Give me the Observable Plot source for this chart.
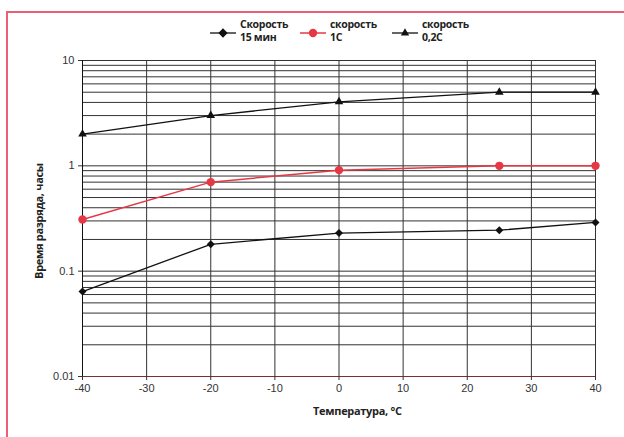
<!DOCTYPE html>
<html><head><meta charset="utf-8">
<script src="https://cdn.jsdelivr.net/npm/d3@7"></script>
<script src="https://cdn.jsdelivr.net/npm/@observablehq/plot@0.6"></script>
<style>
body{margin:0;background:#fff;}
#wrap{position:relative;width:624px;height:437px;overflow:hidden;background:#fff;font-family:"Liberation Sans",Arial,sans-serif;}
#frame{position:absolute;left:6px;top:11px;width:700px;height:500px;border-left:2px solid #ee5d76;border-top:2px solid #ee5d76;}
#chart{position:absolute;left:0;top:0;}
.lbl{position:absolute;font-family:"Open Sans",sans-serif;font-weight:bold;font-size:11px;color:#222;white-space:nowrap;letter-spacing:-0.3px;}
#legend{position:absolute;left:0;top:0;}
.li{position:absolute;display:flex;align-items:flex-start;}
.li span{font-family:"Open Sans",sans-serif;font-weight:bold;font-size:10.5px;line-height:13px;color:#222;letter-spacing:-0.3px;margin-left:4px;margin-top:-1px;}
</style></head>
<body><div id="wrap"><div id="frame"></div><div id="chart"></div><div id="legend"></div>
<div class="lbl" id="xl" style="left:313px;top:403px;">Температура, °C</div>
<div class="lbl" id="yl" style="left:38px;top:221px;transform:translate(-50%,-50%) rotate(-90deg);">Время разряда, часы</div>
</div>
<script>
const temps = [-40, -20, 0, 25, 40];
const rate15min = [0.064, 0.18, 0.23, 0.245, 0.29];
const rate1C = [0.31, 0.70, 0.91, 1.0, 1.0];
const rate02C = [2.0, 3.0, 4.05, 5.0, 5.0];
const seriesNames = ["Скорость\n15 мин", "скорость\n1С", "скорость\n0,2С"];
const xTicks = [-40, -30, -20, -10, 0, 10, 20, 30, 40];
const yTicks = [0.01, 0.1, 1, 10];
const yTickLabels = ["0.01", "0.1", "1", "10"];

const gridY = [];
for (const d of [0.01, 0.1, 1]) for (let k = 1; k <= 9; k++) gridY.push(+(d * k).toPrecision(3));
gridY.push(10);

const mk = (vals) => temps.map((t, i) => ({t, v: vals[i]}));
const s15 = mk(rate15min), s1 = mk(rate1C), s02 = mk(rate02C);

const red = "#e63844";
const yFmt = (d) => yTickLabels[yTicks.indexOf(d)];
const xFmt = (d) => String(d);
const chart = Plot.plot({
  width: 624, height: 437,
  marginTop: 60, marginBottom: 61, marginLeft: 82, marginRight: 29,
  style: {fontFamily: "'Liberation Sans', Arial, sans-serif", fontSize: "11px", color: "#333", background: "transparent"},
  x: {domain: [-40, 40], label: null},
  y: {type: "log", domain: [0.01, 10], label: null},
  marks: [
    Plot.ruleY(gridY, {stroke: "#333", strokeWidth: 1}),
    Plot.ruleX(xTicks, {stroke: "#333", strokeWidth: 1}),
    Plot.ruleY([0.01], {stroke: "#7a3030", strokeWidth: 1}),
    Plot.ruleX([-40], {stroke: "#111", strokeWidth: 1}),
    Plot.lineY(s02, {x: "t", y: "v", stroke: "#111", strokeWidth: 1.3}),
    Plot.dot(s02, {x: "t", y: "v", symbol: "triangle", fill: "#111", r: 3.2}),
    Plot.lineY(s1, {x: "t", y: "v", stroke: red, strokeWidth: 1.5}),
    Plot.dot(s1, {x: "t", y: "v", symbol: "circle", fill: red, r: 4.2}),
    Plot.lineY(s15, {x: "t", y: "v", stroke: "#111", strokeWidth: 1.3}),
    Plot.dot(s15, {x: "t", y: "v", symbol: "diamond2", fill: "#111", stroke: "none", r: 3.6}),
    Plot.axisX({ticks: xTicks, tickFormat: xFmt, tickSize: 4, tickPadding: 4}),
    Plot.axisY({ticks: yTicks, tickFormat: yFmt, tickSize: 4, tickPadding: 4})
  ]
});
document.getElementById("chart").appendChild(chart);

// legend
const legendItems = [
  {name: seriesNames[0], color: "#111", sym: "diamond", left: 210},
  {name: seriesNames[1], color: red, sym: "circle", left: 300},
  {name: seriesNames[2], color: "#111", sym: "triangle", left: 392}
];
const lg = document.getElementById("legend");
for (const it of legendItems) {
  const div = document.createElement("div");
  div.className = "li";
  div.style.left = it.left + "px";
  div.style.top = "19px";
  const svg = d3.create("svg").attr("width", 26).attr("height", 28);
  svg.append("line").attr("x1", 0).attr("x2", 26).attr("y1", 14).attr("y2", 14).attr("stroke", it.color).attr("stroke-width", it.sym === "circle" ? 1.5 : 1.3);
  const sym = it.sym === "diamond" ? d3.symbolDiamond2 : it.sym === "circle" ? d3.symbolCircle : d3.symbolTriangle;
  const size = it.sym === "diamond" ? 55 : it.sym === "circle" ? 55 : 30;
  svg.append("path").attr("d", d3.symbol(sym, size)()).attr("transform", "translate(13,14)").attr("fill", it.color);
  div.appendChild(svg.node());
  const sp = document.createElement("span");
  sp.innerHTML = it.name.replace("\n", "<br>");
  div.appendChild(sp);
  lg.appendChild(div);
}
</script></body></html>
